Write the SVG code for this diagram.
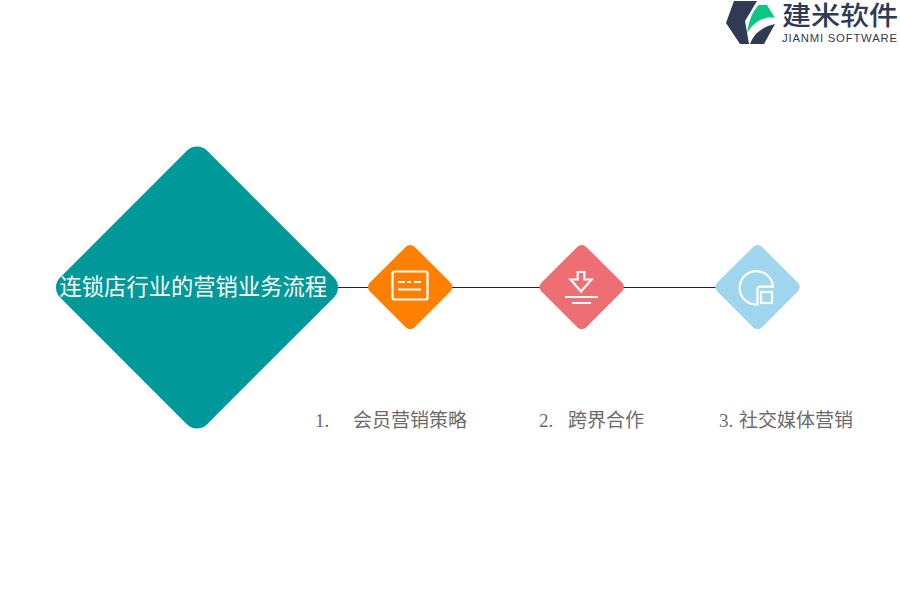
<svg xmlns="http://www.w3.org/2000/svg" width="900" height="600" viewBox="0 0 900 600">
<style>
.cjk{font-family:"Liberation Serif","Noto Sans CJK SC",serif}
.lbl{font-size:19px;fill:#6b6b6b}
.ic{fill:none;stroke:#fff;stroke-width:2.2}
</style>
<rect width="900" height="600" fill="#fff"/>
<g id="connectors"><line x1="338" y1="287.5" x2="716" y2="287.5" stroke="#222" stroke-width="1"/></g>
<g id="main"><rect x="93.2" y="183.7" width="207.6" height="207.6" rx="14" transform="rotate(45 197 287.5)" fill="#009999"/>
<text class="cjk" x="59.5" y="295" font-size="22.3" fill="#fff">连锁店行业的营销业务流程</text></g>
<g id="node1"><rect x="378.6" y="255.5" width="63.2" height="63.2" rx="6" transform="rotate(45 410.2 287.1)" fill="#ff7f00"/>
<rect class="ic" x="392.5" y="271.5" width="35" height="28" rx="2"/>
<path class="ic" d="M398 282h7M407 282h4M414 282h7M398 289.5h23"/></g>
<g id="node2"><rect x="550.15" y="255.5" width="63.2" height="63.2" rx="6" transform="rotate(45 581.75 287.1)" fill="#ee6f73"/>
<path class="ic" d="M577.7 272h6.6v7.5h7.2L581 291.5 570.6 279.5h7.1z"/>
<path class="ic" d="M565 297h33M572 303h19"/></g>
<g id="node3"><rect x="725.95" y="255.5" width="63.2" height="63.2" rx="6" transform="rotate(45 757.55 287.1)" fill="#a0d7ef"/>
<path class="ic" d="M757.5 304.5A16.7 16.7 0 1 1 773 286.7H760Q757.5 286.7 757.5 289.5z"/>
<rect class="ic" x="761" y="292" width="11" height="11"/></g>
<g id="label1" class="cjk lbl"><text x="315" y="427">1.</text><text x="353" y="427">会员营销策略</text></g>
<g id="label2" class="cjk lbl"><text x="539" y="427">2.</text><text x="568" y="427">跨界合作</text></g>
<g id="label3" class="cjk lbl"><text x="719" y="427">3.</text><text x="739" y="427">社交媒体营销</text></g>
<g id="logo">
<path d="M734 1H757L745 21 749 44H740L726 23z" fill="#2f3a55"/>
<path d="M747 33C749 20 753 10 759 5H767L775 18C766 16 755 20 747 33z" fill="#0cc587"/>
<path d="M750 44C754 33 762 27 775 24L764 44z" fill="#2f3a55"/>
<text transform="translate(782 24.5) scale(1.1 1)" font-size="26.4" font-weight="500" fill="#2f3a55" font-family="'Noto Sans CJK SC',sans-serif">建米软件</text>
<text x="782" y="42" font-size="11.3" letter-spacing="0.8" fill="#2f3a55" font-family="'Liberation Sans',sans-serif">JIANMI SOFTWARE</text>
</g>
</svg>
